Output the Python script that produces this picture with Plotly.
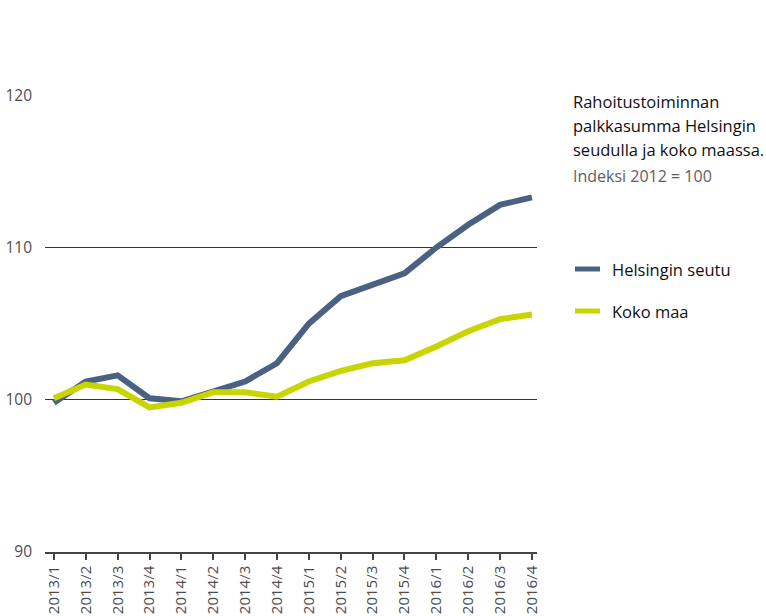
import plotly.graph_objects as go

quarters = ['2013/1', '2013/2', '2013/3', '2013/4',
            '2014/1', '2014/2', '2014/3', '2014/4',
            '2015/1', '2015/2', '2015/3', '2015/4',
            '2016/1', '2016/2', '2016/3', '2016/4']

helsinki = [99.8, 101.2, 101.6, 100.1, 99.9, 100.5, 101.2, 102.4,
            105.0, 106.8, 107.5, 108.3, 110.0, 111.5, 112.8, 113.3]
koko_maa = [100.1, 101.0, 100.7, 99.5, 99.8, 100.5, 100.5, 100.2,
            101.2, 101.9, 102.4, 102.6, 103.5, 104.5, 105.3, 105.6]

series_names = ['Helsingin seutu', 'Koko maa']
colors = ['#4b6182', '#c9d500']

y_ticks = [90, 100, 110, 120]

title_lines = ['Rahoitustoiminnan', 'palkkasumma Helsingin', 'seudulla ja koko maassa.']
subtitle = 'Indeksi 2012 = 100'

font_family = 'Open Sans, Noto Sans, sans-serif'

fig = go.Figure()
for name, vals, col in zip(series_names, [helsinki, koko_maa], colors):
    fig.add_trace(go.Scatter(
        x=list(range(len(quarters))), y=vals, name=name,
        mode='lines', line=dict(color=col, width=6),
        showlegend=False
    ))

fig.update_layout(
    width=766, height=616,
    margin=dict(l=45, r=229, t=95, b=64),
    plot_bgcolor='white', paper_bgcolor='white',
    font=dict(family=font_family, color='#555555', size=15),
    xaxis=dict(
        tickmode='array', tickvals=list(range(len(quarters))), ticktext=quarters,
        tickangle=-90, range=[-0.28, 15.16], automargin=False,
        showline=True, linecolor='#444444', linewidth=1.5,
        ticks='outside', ticklen=6, tickcolor='#444444', tickwidth=1.5,
        showgrid=False, zeroline=False,
        tickfont=dict(size=15, color='#4d4d4d'),
    ),
    yaxis=dict(
        range=[90, 120.02], tickvals=y_ticks, automargin=False,
        showgrid=True, gridcolor='#333333', gridwidth=1,
        zeroline=False, showline=False, ticks='',
        ticklabelstandoff=12,
        tickfont=dict(size=15.5, color='#4d4d4d'),
    ),
)

# text block on the right
for i, line in enumerate(title_lines):
    fig.add_annotation(
        xref='paper', yref='paper', x=(573 - 45) / 492, y=1 - (101 + 24 * i - 95) / 457,
        xanchor='left', yanchor='middle', showarrow=False, xshift=-2,
        text=line, font=dict(family=font_family, size=16.5, color='#111111')
    )
fig.add_annotation(
    xref='paper', yref='paper', x=(573 - 45) / 492, y=1 - (176 - 95) / 457,
    xanchor='left', yanchor='middle', showarrow=False, xshift=-2,
    text=subtitle, font=dict(family=font_family, size=16, color='#606060')
)

# manual legend
for i, (name, col) in enumerate(zip(series_names, colors)):
    ypix = 269 + 42 * i
    yp = 1 - (ypix - 95) / 457
    fig.add_shape(type='line', xref='paper', yref='paper',
                  x0=(575 - 45) / 492, x1=(600 - 45) / 492, y0=yp, y1=yp,
                  line=dict(color=col, width=5))
    fig.add_annotation(
        xref='paper', yref='paper', x=(612 - 45) / 492, y=yp,
        xanchor='left', yanchor='middle', showarrow=False, xshift=-2,
        text=name, font=dict(family=font_family, size=16.5, color='#111111')
    )

# page body has a default 8px margin; drop it so the figure fills the window
fig.write_html('out.html', config={'displayModeBar': False},
               post_script="document.body.style.margin='0';")
